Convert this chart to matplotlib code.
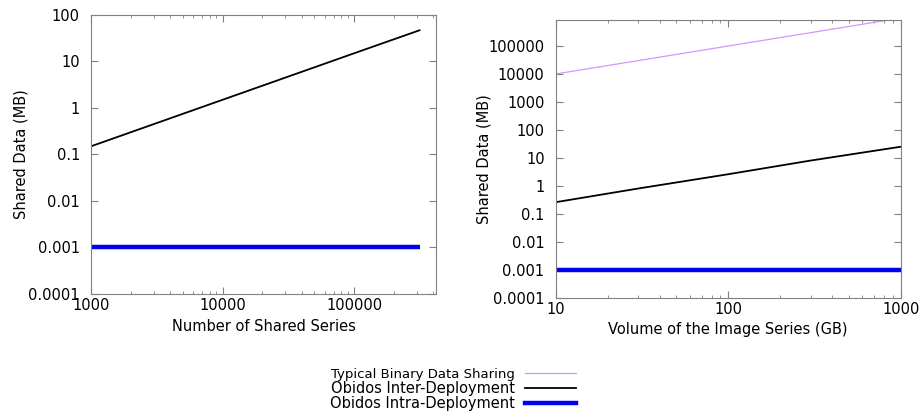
import matplotlib
matplotlib.use("Agg")
import matplotlib.pyplot as plt
from matplotlib.lines import Line2D
from matplotlib.ticker import FixedLocator, FuncFormatter, NullFormatter

plt.rcParams["font.family"] = ["DejaVu Sans"]

# left panel: number of shared series
series_n = [1000, 3000, 10000, 30000, 100000, 315000]
inter_series = [0.15, 0.45, 1.5, 4.5, 15, 47]
intra_series = [0.001, 0.001, 0.001, 0.001, 0.001, 0.001]

# right panel: volume of the image series (GB)
volume_gb = [10, 30, 100, 300, 1000]
binary_vol = [10000, 30000, 100000, 300000, 1000000]
inter_vol = [0.26, 0.8, 2.6, 8.0, 25]
intra_vol = [0.001, 0.001, 0.001, 0.001, 0.001]

left_yticks = [0.0001, 0.001, 0.01, 0.1, 1, 10, 100]
right_yticks = [0.0001, 0.001, 0.01, 0.1, 1, 10, 100, 1000, 10000, 100000]

labels = ["Typical Binary Data Sharing", "Obidos Inter-Deployment", "Obidos Intra-Deployment"]
c_binary = "#cc99ff"
c_inter = "black"
c_intra = "#0000ee"

fmt = FuncFormatter(lambda v, p: "%g" % v)


def style(ax):
	for s in ax.spines.values():
		s.set_color("#808080")
	ax.tick_params(which="both", direction="in", top=True, right=True, color="#808080",
				   labelsize=10.5, labelcolor="black")
	ax.tick_params(which="major", length=5)
	ax.tick_params(which="minor", length=2.5)
	ax.tick_params(axis="y", which="minor", length=0)
	ax.tick_params(axis="y", pad=8)
	ax.tick_params(axis="x", pad=3)
	ax.yaxis.set_major_formatter(fmt)
	ax.xaxis.set_major_formatter(fmt)
	ax.xaxis.set_minor_formatter(NullFormatter())
	ax.yaxis.set_minor_formatter(NullFormatter())


fig = plt.figure(figsize=(9.21, 4.11), dpi=100)

ax1 = fig.add_axes([0.0988, 0.2847, 0.3746, 0.6788])
ax1.plot(series_n, inter_series, color=c_inter, lw=1.3)
ax1.plot(series_n, intra_series, color=c_intra, lw=3.2, solid_capstyle="butt")
ax1.set_xscale("log")
ax1.set_yscale("log")
ax1.set_xlim(1000, 420000)
ax1.set_ylim(0.0001, 100)
ax1.yaxis.set_major_locator(FixedLocator(left_yticks))
ax1.xaxis.set_major_locator(FixedLocator([1000, 10000, 100000]))
style(ax1)
ax1.set_xlabel("Number of Shared Series", fontsize=10.5, labelpad=4)
ax1.set_ylabel("Shared Data (MB)", fontsize=10.5, labelpad=0)

ax2 = fig.add_axes([0.6034, 0.2757, 0.3746, 0.6756])
ax2.plot(volume_gb, binary_vol, color=c_binary, lw=0.9)
ax2.plot(volume_gb, inter_vol, color=c_inter, lw=1.3)
ax2.plot(volume_gb, intra_vol, color=c_intra, lw=3.2, solid_capstyle="butt")
ax2.set_xscale("log")
ax2.set_yscale("log")
ax2.set_xlim(10, 1000)
ax2.set_ylim(0.0001, 850000)
ax2.yaxis.set_major_locator(FixedLocator(right_yticks))
ax2.xaxis.set_major_locator(FixedLocator([10, 100, 1000]))
style(ax2)
ax2.set_xlabel("Volume of the Image Series (GB)", fontsize=10.5, labelpad=4)
ax2.set_ylabel("Shared Data (MB)", fontsize=10.5, labelpad=-2.5)

handles = [Line2D([], [], color=c_binary, lw=0.9),
		   Line2D([], [], color=c_inter, lw=1.3),
		   Line2D([], [], color=c_intra, lw=3.2)]
leg = fig.legend(handles, labels, loc="upper center", bbox_to_anchor=(0.492, 0.122),
				 markerfirst=False, frameon=False, handlelength=3.5, handletextpad=0.7,
				 labelspacing=0.0, borderpad=0.0, fontsize=10.5)
leg.get_texts()[0].set_fontsize(9.5)

fig.savefig("out.png", dpi=100)
